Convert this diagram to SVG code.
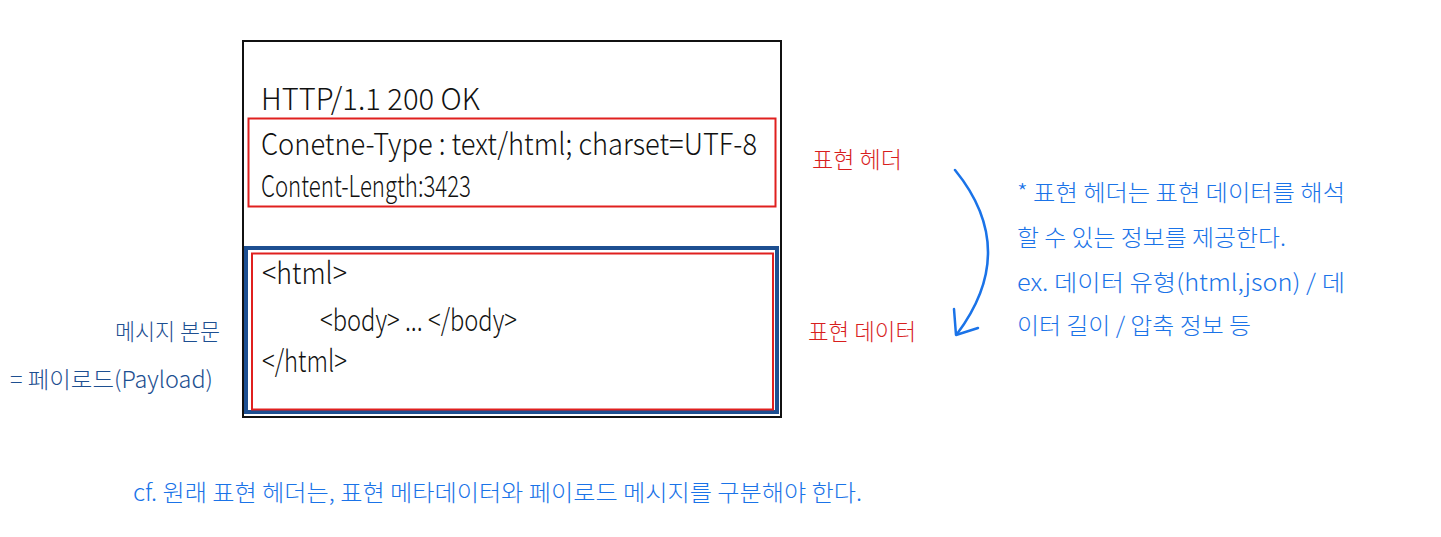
<svg xmlns="http://www.w3.org/2000/svg" width="1441" height="537" viewBox="0 0 1441 537">
<style>
.t{font-family:"Noto Sans CJK KR","Noto Sans",sans-serif;font-weight:300}
.blk{fill:#111;font-size:30px}
.red{fill:#d81e1e;font-size:23px}
.dblue{fill:#1d4f91;font-size:23px}
.blue{fill:#1a73e8;font-size:23px}
</style>
<rect width="1441" height="537" fill="#fff"/>
<g id="message">
<rect x="243" y="41" width="538" height="376" fill="none" stroke="#111" stroke-width="2"/>
<text class="t blk" x="261" y="110" textLength="219" lengthAdjust="spacingAndGlyphs">HTTP/1.1 200 OK</text>
</g>
<g id="header-box">
<rect x="248.5" y="118.5" width="527" height="88" fill="none" stroke="#e0201f" stroke-width="2"/>
<text class="t blk" x="261" y="155" textLength="496" lengthAdjust="spacingAndGlyphs">Conetne-Type : text/html; charset=UTF-8</text>
<text class="t blk" x="261" y="197" textLength="210" lengthAdjust="spacingAndGlyphs">Content-Length:3423</text>
</g>
<g id="body-box">
<rect x="246" y="248" width="531" height="164" fill="none" stroke="#1d4f91" stroke-width="4"/>
<rect x="252" y="253.5" width="521" height="156" fill="none" stroke="#e0201f" stroke-width="2"/>
<text class="t blk" x="262" y="284" textLength="85" lengthAdjust="spacingAndGlyphs">&lt;html&gt;</text>
<text class="t blk" x="320" y="331" textLength="197" lengthAdjust="spacingAndGlyphs">&lt;body&gt; ... &lt;/body&gt;</text>
<text class="t blk" x="262" y="372" textLength="85" lengthAdjust="spacingAndGlyphs">&lt;/html&gt;</text>
</g>
<g id="body-label">
<text class="t dblue" x="220" y="340" text-anchor="end" textLength="105" lengthAdjust="spacingAndGlyphs">메시지 본문</text>
<text class="t dblue" x="10" y="388" textLength="203" lengthAdjust="spacingAndGlyphs">= 페이로드(Payload)</text>
</g>
<g id="header-label">
<text class="t red" x="812" y="168" textLength="90" lengthAdjust="spacingAndGlyphs">표현 헤더</text>
</g>
<g id="data-label">
<text class="t red" x="808" y="340" textLength="108" lengthAdjust="spacingAndGlyphs">표현 데이터</text>
</g>
<g id="note">
<text class="t blue" x="1017" y="201" textLength="328" lengthAdjust="spacingAndGlyphs">* 표현 헤더는 표현 데이터를 해석</text>
<text class="t blue" x="1017" y="246" textLength="269" lengthAdjust="spacingAndGlyphs">할 수 있는 정보를 제공한다.</text>
<text class="t blue" x="1017" y="291" textLength="328" lengthAdjust="spacingAndGlyphs">ex. 데이터 유형(html,json) / 데</text>
<text class="t blue" x="1017" y="334" textLength="234" lengthAdjust="spacingAndGlyphs">이터 길이 / 압축 정보 등</text>
</g>
<g id="footnote">
<text class="t blue" x="133" y="501" textLength="729" lengthAdjust="spacingAndGlyphs">cf. 원래 표현 헤더는, 표현 메타데이터와 페이로드 메시지를 구분해야 한다.</text>
</g>
<g id="connectors" fill="none" stroke="#1a73e8" stroke-width="2.5" stroke-linecap="round" stroke-linejoin="round">
<path d="M955,170 Q1020,250 957,334"/>
<polyline points="954,309 956,335 978,328"/>
</g>
</svg>
